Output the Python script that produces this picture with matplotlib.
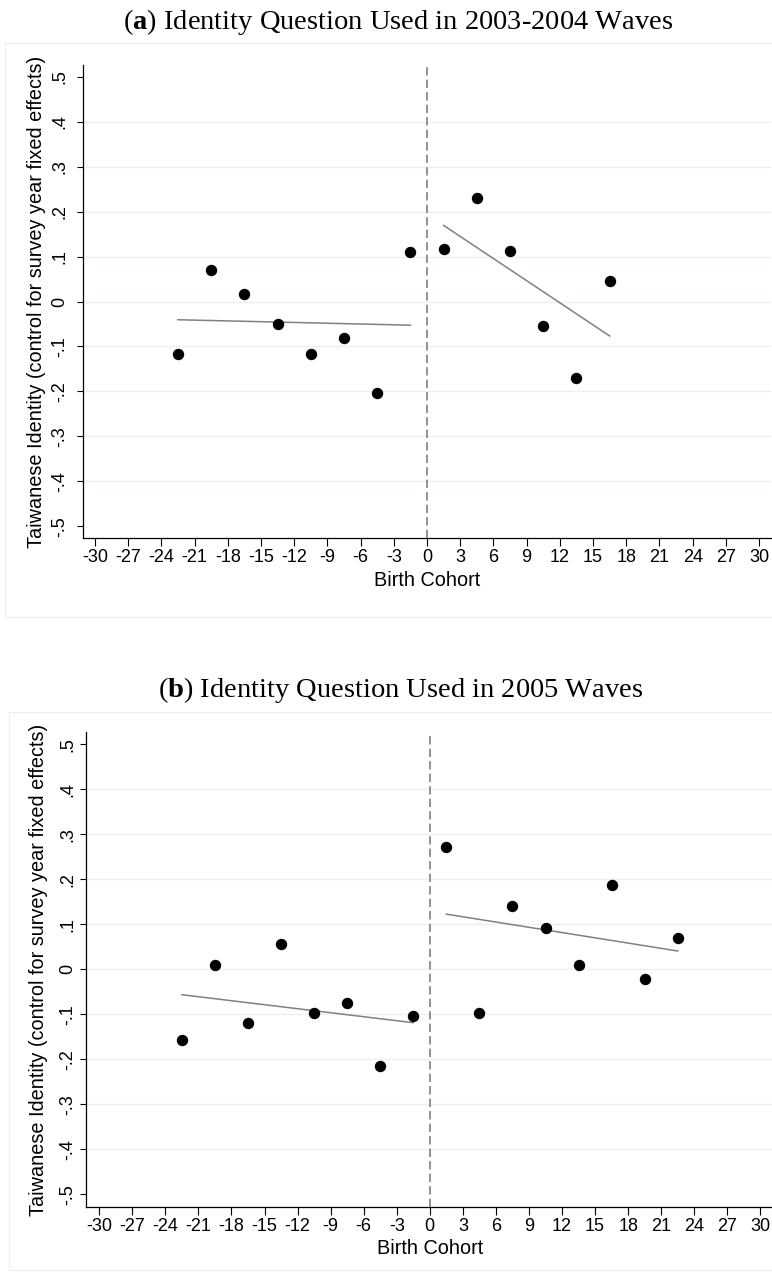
"""
Regression discontinuity plots: Taiwanese identity by birth cohort
Two panels, one per survey wave of the identity question
"""

import numpy as np
import matplotlib
matplotlib.use("Agg")
import matplotlib.pyplot as plt
from matplotlib.patches import Rectangle

# ---------------- DATA ----------------
cohort_a = [-22.5, -19.5, -16.5, -13.5, -10.5, -7.5, -4.5, -1.5,
            1.5, 4.5, 7.5, 10.5, 13.5, 16.5]
identity_a = [-0.117, 0.070, 0.017, -0.050, -0.117, -0.082, -0.204, 0.110,
              0.116, 0.230, 0.112, -0.055, -0.170, 0.045]

cohort_b = [-22.5, -19.5, -16.5, -13.5, -10.5, -7.5, -4.5, -1.5,
            1.5, 4.5, 7.5, 10.5, 13.5, 16.5, 19.5, 22.5]
identity_b = [-0.158, 0.009, -0.119, 0.056, -0.096, -0.074, -0.214, -0.103,
              0.271, -0.096, 0.142, 0.093, 0.009, 0.188, -0.022, 0.070]

x_ticks = list(range(-30, 31, 3))
y_ticks = [-0.5, -0.4, -0.3, -0.2, -0.1, 0.0, 0.1, 0.2, 0.3, 0.4, 0.5]
y_tick_labels = ["-.5", "-.4", "-.3", "-.2", "-.1", "0", ".1", ".2", ".3", ".4", ".5"]
grid_levels = [-0.4, -0.3, -0.2, -0.1, 0.0, 0.1, 0.2, 0.3, 0.4]

title_a = r"($\mathbf{a}$) Identity Question Used in 2003-2004 Waves"
title_b = r"($\mathbf{b}$) Identity Question Used in 2005 Waves"
y_label = "Taiwanese Identity (control for survey year fixed effects)"
x_label = "Birth Cohort"

# ---------------- STYLE ----------------
W, H = 772, 1283
SANS = "Liberation Sans"
SERIF = "Liberation Serif"
plt.rcParams["mathtext.fontset"] = "custom"
plt.rcParams["mathtext.rm"] = SERIF
plt.rcParams["mathtext.bf"] = SERIF + ":bold"
plt.rcParams["lines.scale_dashes"] = False

GRID_COLOR = "#eaf1f3"
LINE_GRAY = "#808080"


def px_axes(fig, left, right, top, bottom):
    """Add axes from pixel box (origin top-left)"""
    return fig.add_axes([left / W, 1 - bottom / H, (right - left) / W, (bottom - top) / H])


def draw_panel(ax, cohort, identity, xlim, ylim, tick_pad, ylabel_x_px, left_px, width_px):
    x = np.array(cohort)
    y = np.array(identity)

    for g in grid_levels:
        ax.axhline(g, color=GRID_COLOR, lw=1.0, zorder=0)

    ax.axvline(0, color=LINE_GRAY, lw=1.2, dashes=(6, 3), zorder=1)

    # separate linear fits on each side of the cutoff
    for mask in (x < 0, x > 0):
        coef = np.polyfit(x[mask], y[mask], 1)
        xs = np.array([x[mask].min(), x[mask].max()])
        ax.plot(xs, np.polyval(coef, xs), color=LINE_GRAY, lw=1.1, zorder=2)

    ax.plot(x, y, "o", color="black", markersize=7.2, zorder=3)

    ax.set_xlim(*xlim)
    ax.set_ylim(*ylim)
    ax.set_xticks(x_ticks)
    ax.set_xticklabels([str(t) for t in x_ticks], fontsize=13, family=SANS)
    ax.set_yticks(y_ticks)
    ax.set_yticklabels(y_tick_labels, fontsize=13, family=SANS, rotation=90, va="center")

    ax.tick_params(axis="x", length=6, width=0.8, pad=2)
    ax.tick_params(axis="y", length=4.5, width=0.8, pad=tick_pad)

    for side in ("top", "right"):
        ax.spines[side].set_visible(False)
    for side in ("left", "bottom"):
        ax.spines[side].set_linewidth(0.9)
        ax.spines[side].set_color("black")

    ax.set_ylabel(y_label, fontsize=14.3, family=SANS, va="center")
    ax.yaxis.set_label_coords((ylabel_x_px - left_px) / width_px, 0.5)
    ax.set_xlabel(x_label, fontsize=14.3, family=SANS, va="center")
    ax.xaxis.set_label_coords(0.5, -42 / 473)
    ax.set_facecolor("none")


fig = plt.figure(figsize=(W / 100, H / 100), dpi=100)

# faint outlines of the two graph regions
fig.patches.append(Rectangle((4.5 / W, 1 - 617 / H), 800 / W, 574 / H, transform=fig.transFigure,
                             fill=False, edgecolor="#e9eef1", lw=0.8))
fig.patches.append(Rectangle((8.5 / W, 1 - 1270 / H), 800 / W, 558 / H, transform=fig.transFigure,
                             fill=False, edgecolor="#e9eef1", lw=0.8))

# panel (a)
ax_a = px_axes(fig, 82.7, 771.3, 65, 538)
draw_panel(ax_a, cohort_a, identity_a, (-31.1, 31.1), (-0.526, 0.526), 6, 37, 82.7, 688.6)
fig.text(398 / W, 1 - 22 / H, title_a, family=SERIF, fontsize=20.5, ha="center", va="center")

# panel (b)
ax_b = px_axes(fig, 86, 773.6, 732.3, 1206.5)
draw_panel(ax_b, cohort_b, identity_b, (-31.2, 31.2), (-0.527, 0.527), 2.5, 38.5, 86, 687.6)
fig.text(401 / W, 1 - 690 / H, title_b, family=SERIF, fontsize=20.5, ha="center", va="center")

fig.savefig("out.png", dpi=100)
